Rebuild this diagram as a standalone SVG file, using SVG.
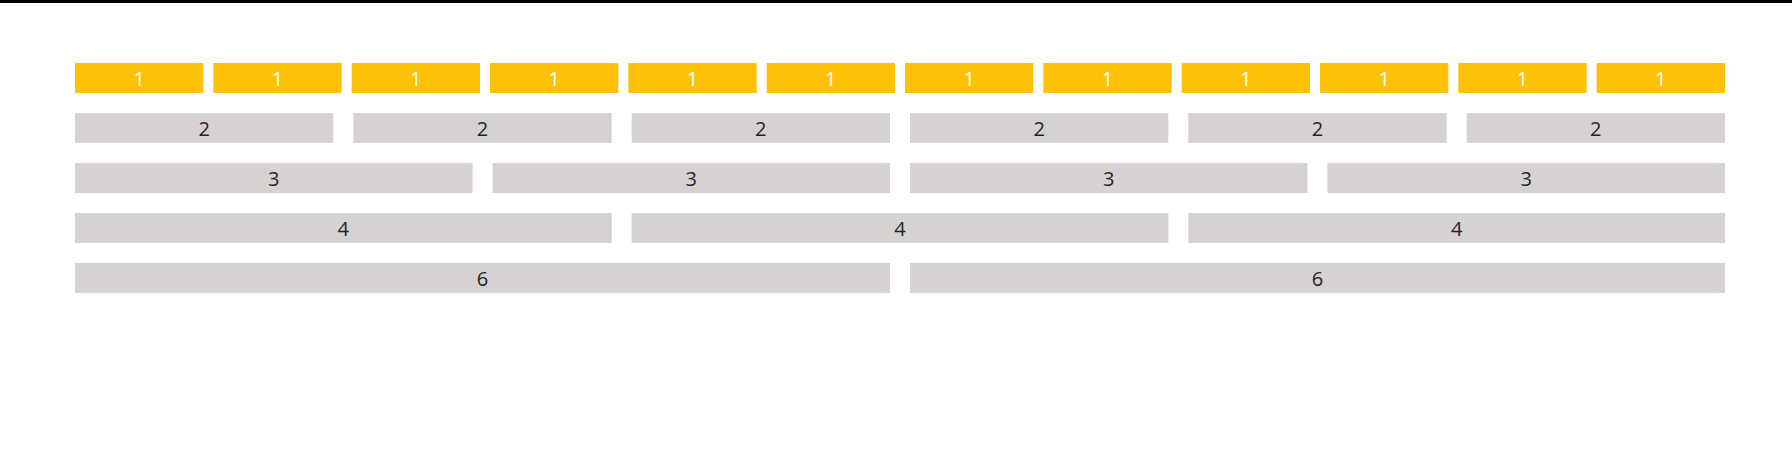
<svg xmlns="http://www.w3.org/2000/svg" width="1792" height="456" viewBox="0 0 1792 456">
<style>
.y{fill:#FFC107}
.g{fill:#D6D2D2}
text{font-family:"Open Sans","Noto Sans","DejaVu Sans",sans-serif;font-size:20px;text-anchor:middle}
.ty{fill:#FFFFFF}
.tg{fill:#212529}
</style>
<rect x="0" y="0" width="1792" height="456" fill="#FFFFFF"/>
<rect x="0" y="0" width="1792" height="3" fill="#000000"/>
<g id="row1">
<g id="r1c1"><rect class="y" x="75" y="63" width="128.33" height="30"/><text class="ty" x="139.17" y="86">1</text></g>
<g id="r1c2"><rect class="y" x="213.33" y="63" width="128.33" height="30"/><text class="ty" x="277.5" y="86">1</text></g>
<g id="r1c3"><rect class="y" x="351.67" y="63" width="128.33" height="30"/><text class="ty" x="415.83" y="86">1</text></g>
<g id="r1c4"><rect class="y" x="490" y="63" width="128.33" height="30"/><text class="ty" x="554.17" y="86">1</text></g>
<g id="r1c5"><rect class="y" x="628.33" y="63" width="128.33" height="30"/><text class="ty" x="692.5" y="86">1</text></g>
<g id="r1c6"><rect class="y" x="766.67" y="63" width="128.33" height="30"/><text class="ty" x="830.83" y="86">1</text></g>
<g id="r1c7"><rect class="y" x="905" y="63" width="128.33" height="30"/><text class="ty" x="969.17" y="86">1</text></g>
<g id="r1c8"><rect class="y" x="1043.33" y="63" width="128.33" height="30"/><text class="ty" x="1107.5" y="86">1</text></g>
<g id="r1c9"><rect class="y" x="1181.67" y="63" width="128.33" height="30"/><text class="ty" x="1245.83" y="86">1</text></g>
<g id="r1c10"><rect class="y" x="1320" y="63" width="128.33" height="30"/><text class="ty" x="1384.17" y="86">1</text></g>
<g id="r1c11"><rect class="y" x="1458.33" y="63" width="128.33" height="30"/><text class="ty" x="1522.5" y="86">1</text></g>
<g id="r1c12"><rect class="y" x="1596.67" y="63" width="128.33" height="30"/><text class="ty" x="1660.83" y="86">1</text></g>
</g>
<g id="row2">
<g id="r2c1"><rect class="g" x="75" y="113" width="258.33" height="30"/><text class="tg" x="204.17" y="136">2</text></g>
<g id="r2c2"><rect class="g" x="353.33" y="113" width="258.33" height="30"/><text class="tg" x="482.5" y="136">2</text></g>
<g id="r2c3"><rect class="g" x="631.67" y="113" width="258.33" height="30"/><text class="tg" x="760.83" y="136">2</text></g>
<g id="r2c4"><rect class="g" x="910" y="113" width="258.33" height="30"/><text class="tg" x="1039.17" y="136">2</text></g>
<g id="r2c5"><rect class="g" x="1188.33" y="113" width="258.33" height="30"/><text class="tg" x="1317.5" y="136">2</text></g>
<g id="r2c6"><rect class="g" x="1466.67" y="113" width="258.33" height="30"/><text class="tg" x="1595.83" y="136">2</text></g>
</g>
<g id="row3">
<g id="r3c1"><rect class="g" x="75" y="163" width="397.5" height="30"/><text class="tg" x="273.75" y="186">3</text></g>
<g id="r3c2"><rect class="g" x="492.5" y="163" width="397.5" height="30"/><text class="tg" x="691.25" y="186">3</text></g>
<g id="r3c3"><rect class="g" x="910" y="163" width="397.5" height="30"/><text class="tg" x="1108.75" y="186">3</text></g>
<g id="r3c4"><rect class="g" x="1327.5" y="163" width="397.5" height="30"/><text class="tg" x="1526.25" y="186">3</text></g>
</g>
<g id="row4">
<g id="r4c1"><rect class="g" x="75" y="213" width="536.67" height="30"/><text class="tg" x="343.33" y="236">4</text></g>
<g id="r4c2"><rect class="g" x="631.67" y="213" width="536.67" height="30"/><text class="tg" x="900" y="236">4</text></g>
<g id="r4c3"><rect class="g" x="1188.33" y="213" width="536.67" height="30"/><text class="tg" x="1456.67" y="236">4</text></g>
</g>
<g id="row6">
<g id="r6c1"><rect class="g" x="75" y="263" width="815" height="30"/><text class="tg" x="482.5" y="286">6</text></g>
<g id="r6c2"><rect class="g" x="910" y="263" width="815" height="30"/><text class="tg" x="1317.5" y="286">6</text></g>
</g>
<g id="connectors"></g>
</svg>
